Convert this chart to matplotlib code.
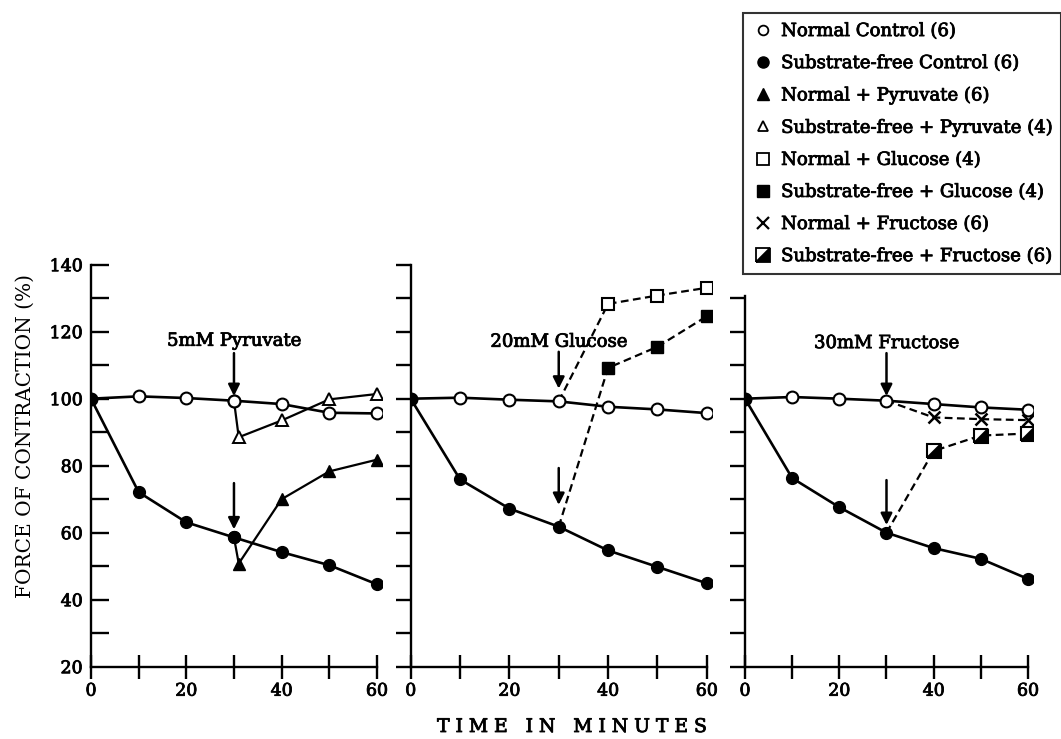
import matplotlib
matplotlib.use('Agg')
import matplotlib.pyplot as plt
import matplotlib.patheffects as pe
from matplotlib.lines import Line2D
from matplotlib.markers import MarkerStyle
from matplotlib.transforms import Affine2D

plt.rcParams['font.family'] = 'DejaVu Serif'

# データ (分, 収縮力 %)
times = [0, 10, 20, 30, 40, 50, 60]

# パネル1: ピルビン酸
p1_normal = [100, 100.7, 100.2, 99.4, 98.4, 95.8, 95.6]
p1_free = [100, 72.1, 63.1, 58.6, 54.2, 50.3, 44.6]
p1_tri_t = [30, 31, 40, 50, 60]
p1_tri_filled = [58.6, 50.8, 70.0, 78.3, 81.8]
p1_tri_open = [99.4, 88.5, 93.5, 99.8, 101.4]

# パネル2: グルコース
p2_normal = [100, 100.3, 99.7, 99.2, 97.6, 96.8, 95.7]
p2_free = [100, 75.9, 67.2, 61.8, 54.7, 49.8, 44.9]
p2_t = [30, 40, 50, 60]
p2_sq_open = [99.2, 128.3, 130.8, 133.1]
p2_sq_filled = [61.8, 109.2, 115.5, 124.6]

# パネル3: フルクトース
p3_normal = [100, 100.5, 100.0, 99.4, 98.4, 97.4, 96.7]
p3_free = [100, 76.3, 67.6, 60.0, 55.4, 52.2, 46.2]
p3_t = [30, 40, 50, 60]
p3_cross = [99.4, 94.4, 93.9, 93.6]
p3_half = [60.0, 84.4, 89.0, 89.6]

legend_labels = ['Normal Control (6)', 'Substrate-free Control (6)', 'Normal + Pyruvate (6)',
                 'Substrate-free + Pyruvate (4)', 'Normal + Glucose (4)', 'Substrate-free + Glucose (4)',
                 'Normal + Fructose (6)', 'Substrate-free + Fructose (6)']

# 半分塗りつぶしの四角 (右下が黒)
half_sq = MarkerStyle('D', fillstyle='bottom', transform=Affine2D().rotate_deg(45))

# 文字を少し太く見せる
bold = [pe.withStroke(linewidth=0.6, foreground='black')]

W, H = 1061, 739
fig = plt.figure(figsize=(W / 100, H / 100), dpi=100)

def px_axes(x0, x1, y_top=264.7, y_bot=666.7):
    return fig.add_axes([x0 / W, 1 - y_bot / H, (x1 - x0) / W, (y_bot - y_top) / H])

ax1 = px_axes(91, 381.7)
ax2 = px_axes(410.7, 711.7)
ax3 = px_axes(745, 1032.7)
axes = [ax1, ax2, ax3]

LW = 1.9
MS = 8.5
solid = dict(color='black', lw=LW, zorder=3)
dash = dict(color='black', lw=1.6, ls=(0, (3.5, 2)), zorder=2)
open_c = dict(marker='o', ms=MS, mfc='white', mec='black', mew=1.5)
fill_c = dict(marker='o', ms=MS, mfc='black', mec='black')
skip0 = slice(1, None)   # 分岐点(30分)にはマーカーを描かない

for ax in axes:
    ax.set_xlim(0, 61)
    ax.set_ylim(20, 140)
    ax.spines['top'].set_visible(False)
    ax.spines['right'].set_visible(False)
    ax.spines['left'].set_linewidth(1.7)
    ax.spines['bottom'].set_linewidth(1.7)
    ax.spines['bottom'].set_bounds(0, 60)
    ax.set_xticks(range(0, 61, 10))
    ax.set_xticklabels(['0', '', '20', '', '40', '', '60'])
    ax.tick_params(axis='x', direction='inout', length=17, width=1.7, pad=3, labelsize=12.5)
    ax.set_yticks(range(20, 141, 10))
    ax.patch.set_visible(False)

ax1.tick_params(axis='y', direction='in', length=13, width=1.7, pad=6, labelsize=12.5)
ax1.set_yticklabels([str(v) if v % 20 == 0 else '' for v in range(20, 141, 10)])
ax1.get_yticklines()[0].set_visible(False)
for ax in (ax2, ax3):
    ax.tick_params(axis='y', direction='out', length=11, width=1.7, labelleft=False)
ax3.spines['left'].set_bounds(20, 130.8)
ax3.set_yticks(range(20, 131, 10))

# パネル1
ax1.plot(times, p1_normal, **solid, **open_c)
ax1.plot(times, p1_free, **solid, **fill_c)
ax1.plot(p1_tri_t, p1_tri_filled, color='black', lw=1.6, marker='^', ms=9, mfc='black', mec='black',
         markevery=skip0, zorder=4)
ax1.plot(p1_tri_t, p1_tri_open, color='black', lw=1.6, marker='^', ms=9, mfc='white', mec='black', mew=1.4,
         markevery=skip0, zorder=4)
ax1.plot(times[3], p1_normal[3], ls='none', zorder=5, **open_c)
ax1.plot(times[3], p1_free[3], ls='none', zorder=5, **fill_c)

# パネル2
ax2.plot(times, p2_normal, **solid, **open_c)
ax2.plot(times, p2_free, **solid, **fill_c)
ax2.plot(p2_t, p2_sq_open, **dash, marker='s', ms=9, mfc='white', mec='black', mew=1.5, markevery=skip0)
ax2.plot(p2_t, p2_sq_filled, **dash, marker='s', ms=9, mfc='black', mec='black', markevery=skip0)

# パネル3
ax3.plot(times, p3_normal, **solid, **open_c)
ax3.plot(times, p3_free, **solid, **fill_c)
ax3.plot(p3_t, p3_cross, **dash, marker='x', ms=8, mec='black', mew=1.8, markevery=skip0)
ax3.plot(p3_t, p3_half, **dash, marker=half_sq, ms=10, mfc='black', mfcalt='white', mec='black', mew=1.5,
         markevery=skip0)

# 矢印と注記
arrow = dict(arrowstyle='-|>', color='black', lw=1.8, mutation_scale=17, shrinkA=0, shrinkB=0)
notes = [(ax1, '5mM Pyruvate', 117.3, (113.6, 100.8), (74.8, 61.0)),
         (ax2, '20mM Glucose', 117.0, (114.0, 103.0), (79.3, 68.3)),
         (ax3, '30mM Fructose', 116.6, (113.6, 100.8), (75.7, 62.3))]
for ax, txt, ty, up, low in notes:
    ax.text(30, ty, txt, ha='center', va='center', fontsize=13, path_effects=bold)
    ax.annotate('', xy=(30, up[1]), xytext=(30, up[0]), arrowprops=arrow)
    ax.annotate('', xy=(30, low[1]), xytext=(30, low[0]), arrowprops=arrow)

for ax in axes:
    for lab in ax.get_xticklabels() + ax.get_yticklabels():
        lab.set_path_effects(bold)

# 軸ラベル
fig.text(25 / W, 1 - 436 / H, 'FORCE OF CONTRACTION (%)', rotation=90, ha='center', va='center',
         fontsize=14.5)
fig.text(572 / W, 1 - 727 / H, 'T I M E   I N   M I N U T E S', ha='center', va='center', fontsize=13.5,
         path_effects=bold)

# 凡例
handles = [
    Line2D([], [], ls='none', marker='o', ms=7, mfc='white', mec='black', mew=1.3),
    Line2D([], [], ls='none', marker='o', ms=8, mfc='black', mec='black'),
    Line2D([], [], ls='none', marker='^', ms=8, mfc='black', mec='black'),
    Line2D([], [], ls='none', marker='^', ms=7, mfc='white', mec='black', mew=1.3),
    Line2D([], [], ls='none', marker='s', ms=8, mfc='white', mec='black', mew=1.3),
    Line2D([], [], ls='none', marker='s', ms=9, mfc='black', mec='black'),
    Line2D([], [], ls='none', marker='x', ms=8, mec='black', mew=1.6),
    Line2D([], [], ls='none', marker=half_sq, ms=10, mfc='black', mfcalt='white', mec='black', mew=1.3),
]
leg = fig.legend(handles, legend_labels, loc='upper left', bbox_to_anchor=(743 / W, 1 - 13 / H),
                 borderaxespad=0, fontsize=13, frameon=True, fancybox=False, handlelength=1.2,
                 handletextpad=0.41, labelspacing=0.78, borderpad=0.5)
leg.get_frame().set_edgecolor('black')
leg.get_frame().set_linewidth(1.5)
for t in leg.get_texts():
    t.set_path_effects(bold)

fig.savefig('out.png', dpi=100)
